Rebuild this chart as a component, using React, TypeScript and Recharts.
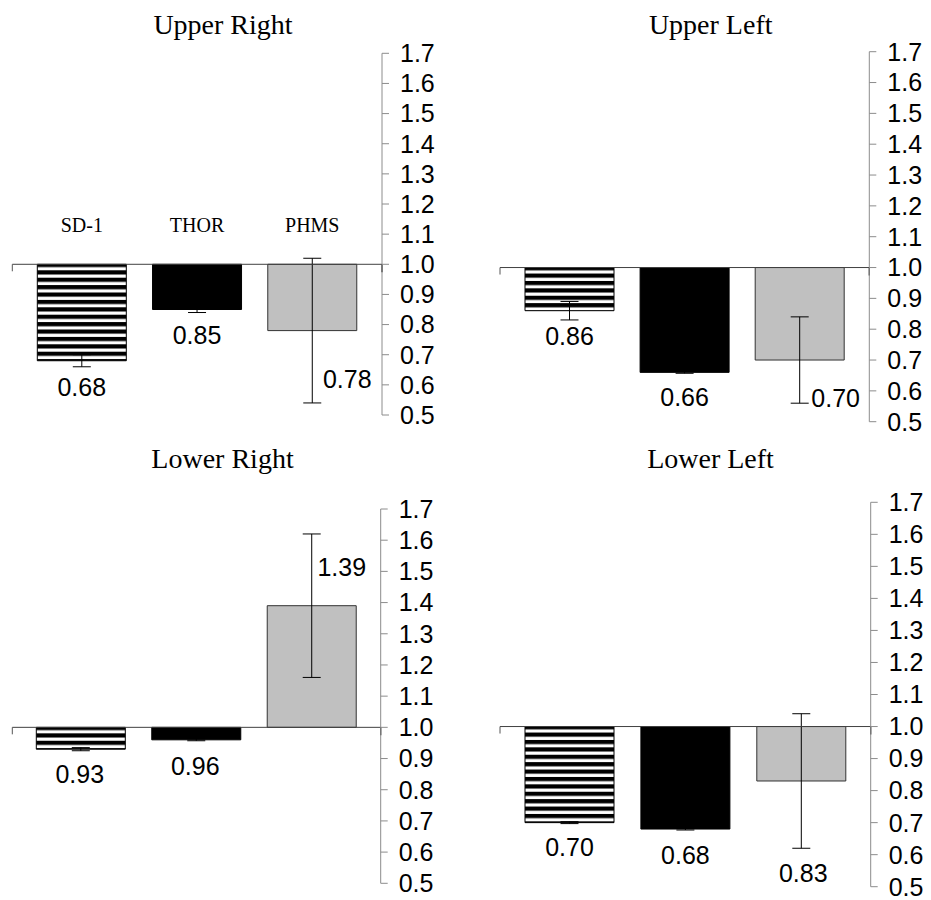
import React from 'react';
import {
  BarChart,
  Bar,
  XAxis,
  YAxis,
  ErrorBar,
  LabelList,
  Cell,
  ReferenceLine,
} from 'recharts';

// ---- data ----
const GROUPS = ['SD-1', 'THOR', 'PHMS'];
const RATIO_TICKS = [0.5, 0.6, 0.7, 0.8, 0.9, 1.0, 1.1, 1.2, 1.3, 1.4, 1.5, 1.6, 1.7];
const BASE = 1.0;

const UPPER_RIGHT = [0.68, 0.85, 0.78];
const UPPER_RIGHT_ERR = [0.02, 0.01, 0.24];
const UPPER_LEFT = [0.86, 0.66, 0.7];
const UPPER_LEFT_ERR = [0.03, 0.003, 0.14];
const LOWER_RIGHT = [0.93, 0.96, 1.39];
const LOWER_RIGHT_ERR = [0.005, 0.003, 0.23];
const LOWER_LEFT = [0.7, 0.68, 0.83];
const LOWER_LEFT_ERR = [0.003, 0.003, 0.21];

// ---- layout ----
const CHART_W = 466;
const CHART_H = 460;
const RMIN = RATIO_TICKS[0];
const RMAX = RATIO_TICKS[RATIO_TICKS.length - 1];
const SANS = '"Liberation Sans", Arial, Helvetica, sans-serif';
const SERIF = '"Liberation Serif", "Times New Roman", Times, serif';

type Nudge = { dx: number; dy: number };
type Panel = {
  key: string;
  title: string;
  values: number[];
  errors: number[];
  left: number;
  top: number;
  margin: { top: number; right: number; bottom: number; left: number };
  pad: { left: number; right: number };
  titleX: number;
  titleY: number;
  nudges: Nudge[];
  showGroups: boolean;
};

const PANELS: Panel[] = [
  {
    key: 'ur',
    title: 'Upper Right',
    values: UPPER_RIGHT,
    errors: UPPER_RIGHT_ERR,
    left: 0,
    top: 0,
    margin: { top: 53.3, right: 24, bottom: 45, left: 12.3 },
    pad: { left: 12, right: 12 },
    titleX: 223,
    titleY: 34,
    nudges: [
      { dx: 0, dy: 26 },
      { dx: 0, dy: 25 },
      { dx: 35, dy: 48 },
    ],
    showGroups: true,
  },
  {
    key: 'ul',
    title: 'Upper Left',
    values: UPPER_LEFT,
    errors: UPPER_LEFT_ERR,
    left: 465,
    top: 0,
    margin: { top: 51.7, right: 1.7, bottom: 38.3, left: 35 },
    pad: { left: 12, right: 12 },
    titleX: 710.7,
    titleY: 34,
    nudges: [
      { dx: 0, dy: 25 },
      { dx: 0, dy: 25 },
      { dx: 36, dy: 37.5 },
    ],
    showGroups: false,
  },
  {
    key: 'lr',
    title: 'Lower Right',
    values: LOWER_RIGHT,
    errors: LOWER_RIGHT_ERR,
    left: 0,
    top: 440,
    margin: { top: 69, right: 25.3, bottom: 16.7, left: 12.3 },
    pad: { left: 11, right: 11 },
    titleX: 222.5,
    titleY: 468,
    nudges: [
      { dx: -1, dy: 25 },
      { dx: -1, dy: 26.5 },
      { dx: 30, dy: -38.3 },
    ],
    showGroups: false,
  },
  {
    key: 'll',
    title: 'Lower Left',
    values: LOWER_LEFT,
    errors: LOWER_LEFT_ERR,
    left: 465,
    top: 440,
    margin: { top: 62.3, right: 0.3, bottom: 13.3, left: 35 },
    pad: { left: 12, right: 11 },
    titleX: 710.5,
    titleY: 468,
    nudges: [
      { dx: 0, dy: 24.6 },
      { dx: 0, dy: 26 },
      { dx: 2, dy: 92 },
    ],
    showGroups: false,
  },
];

// y of the 1.0 line inside a panel's own svg
const baselineY = (p: Panel) =>
  p.margin.top + ((RMAX - BASE) / (RMAX - RMIN)) * (CHART_H - p.margin.top - p.margin.bottom);

const barFills = (key: string) => [`url(#stripes-${key})`, '#000000', '#c0c0c0'];
const barStrokes = ['#000000', '#000000', '#333333'];

function boxOf(props: any) {
  const vb = props.viewBox && typeof props.viewBox.x === 'number' ? props.viewBox : props;
  const x = Number(vb.x);
  const y = Number(vb.y);
  const w = Number(vb.width);
  const h = Number(vb.height);
  return { x, w, top: Math.min(y, y + h), bottom: Math.max(y, y + h) };
}

// Baseline at 1.0 with short end ticks
function Baseline(props: any) {
  const { x1, y1, x2 } = props;
  const xl = Math.min(x1, x2);
  const xr = Math.max(x1, x2);
  return (
    <g>
      <line x1={xl} y1={y1} x2={xr} y2={y1} stroke="#404040" strokeWidth={1} />
      <line x1={xl} y1={y1} x2={xl} y2={y1 + 7} stroke="#555555" strokeWidth={1} />
      <line x1={xr} y1={y1} x2={xr} y2={y1 + 8} stroke="#000000" strokeWidth={1.2} />
    </g>
  );
}

function PanelChart({ panel }: { panel: Panel }) {
  const rows = GROUPS.map((name, i) => ({
    name,
    ratio: panel.values[i],
    err: panel.errors[i],
  }));
  const fills = barFills(panel.key);

  const valueLabel = (props: any) => {
    const i = props.index;
    const row = rows[i];
    if (!row) return null;
    const b = boxOf(props);
    const far = row.ratio < BASE ? b.bottom : b.top;
    const n = panel.nudges[i];
    return (
      <text
        x={b.x + b.w / 2 + n.dx}
        y={far + n.dy}
        dy="0.36em"
        textAnchor="middle"
        fontFamily={SANS}
        fontSize={25}
        fill="#000"
      >
        {row.ratio.toFixed(2)}
      </text>
    );
  };

  const groupLabel = (props: any) => {
    const i = props.index;
    const row = rows[i];
    if (!row) return null;
    const b = boxOf(props);
    const base = row.ratio < BASE ? b.top : b.bottom;
    return (
      <text
        x={b.x + b.w / 2}
        y={base - 32.5}
        textAnchor="middle"
        fontFamily={SERIF}
        fontSize={20}
        fill="#000"
      >
        {row.name}
      </text>
    );
  };

  return (
    <div style={{ position: 'absolute', left: panel.left, top: panel.top, width: CHART_W, height: CHART_H }}>
      <BarChart width={CHART_W} height={CHART_H} data={rows} margin={panel.margin}>
        <XAxis dataKey="name" type="category" hide padding={panel.pad} />
        <YAxis
          orientation="right"
          type="number"
          domain={[RMIN - BASE, RMAX - BASE]}
          ticks={RATIO_TICKS.map((t) => t - BASE)}
          tickFormatter={(t: number) => (t + BASE).toFixed(1)}
          interval={0}
          width={60}
          tickSize={7}
          tickMargin={11}
          axisLine={{ stroke: '#8c8c8c', strokeWidth: 1 }}
          tickLine={{ stroke: '#8c8c8c', strokeWidth: 1 }}
          tick={{ fill: '#000', fontSize: 25, fontFamily: SANS }}
          allowDataOverflow
        />
        <Bar
          dataKey={(d: any) => d.ratio - BASE}
          barSize={89}
          isAnimationActive={false}
          strokeWidth={1}
        >
          {rows.map((r, i) => (
            <Cell key={r.name} fill={fills[i]} stroke={barStrokes[i]} />
          ))}
          <ErrorBar dataKey="err" direction="y" width={9} stroke="#000" strokeWidth={1} />
          <LabelList dataKey="ratio" content={valueLabel} />
          {panel.showGroups ? <LabelList dataKey="name" content={groupLabel} /> : null}
        </Bar>
        <ReferenceLine y={0} shape={Baseline} ifOverflow="extendDomain" />
      </BarChart>
    </div>
  );
}

export default function App() {
  return (
    <div
      style={{
        position: 'absolute',
        left: 0,
        top: 0,
        width: 931,
        height: 900,
        background: '#ffffff',
        overflow: 'hidden',
      }}
    >
      <svg width={0} height={0} style={{ position: 'absolute', left: 0, top: 0 }}>
        <defs>
          {PANELS.map((p) => (
            <pattern
              key={p.key}
              id={`stripes-${p.key}`}
              patternUnits="userSpaceOnUse"
              x={0}
              y={baselineY(p) - 1.4}
              width={8}
              height={7.4}
            >
              <rect x={0} y={0} width={8} height={7.4} fill="#ffffff" />
              <rect x={0} y={0} width={8} height={4.2} fill="#000000" />
            </pattern>
          ))}
        </defs>
      </svg>
      {PANELS.map((p) => (
        <PanelChart key={p.key} panel={p} />
      ))}
      <svg
        width={931}
        height={900}
        style={{ position: 'absolute', left: 0, top: 0, pointerEvents: 'none' }}
      >
        {PANELS.map((p) => (
          <text
            key={p.key}
            x={p.titleX}
            y={p.titleY}
            textAnchor="middle"
            fontFamily={SERIF}
            fontSize={28}
            fill="#000"
          >
            {p.title}
          </text>
        ))}
      </svg>
    </div>
  );
}
